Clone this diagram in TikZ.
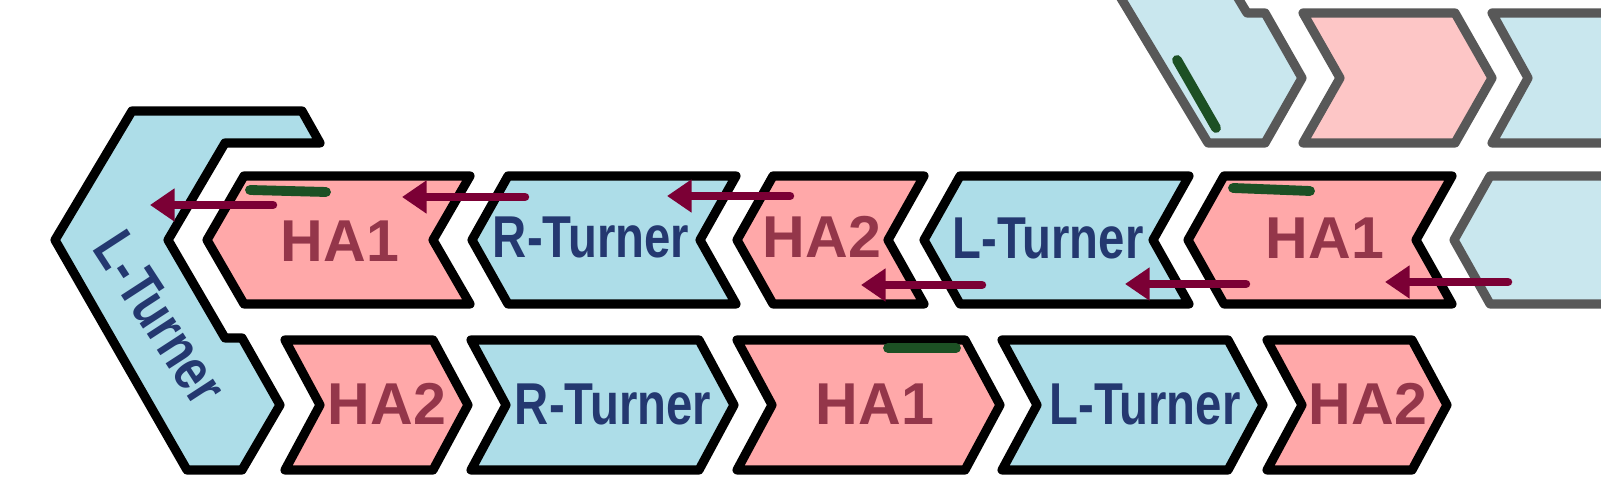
\documentclass[tikz,border=0pt]{standalone}
\usepackage{fontspec}
\setmainfont{Liberation Sans}
\newfontfamily\condsans{Liberation Sans}[FakeStretch=0.80]
\usetikzlibrary{arrows.meta}
\definecolor{hapink}{RGB}{255,168,169}
\definecolor{turnblue}{RGB}{173,221,232}
\definecolor{fadepink}{RGB}{253,198,198}
\definecolor{fadeblue}{RGB}{201,231,238}
\definecolor{fadegray}{RGB}{88,88,88}
\definecolor{hatext}{RGB}{148,54,74}
\definecolor{turntext}{RGB}{36,56,112}
\definecolor{arrowred}{RGB}{123,0,53}
\definecolor{bargreen}{RGB}{28,80,36}

\begin{document}
\begin{tikzpicture}[
  x=0.01cm, y=-0.01cm,
  habox/.style={fill=hapink, draw=black, line width=2.6pt, line join=round},
  turnbox/.style={fill=turnblue, draw=black, line width=2.6pt, line join=round},
  hafade/.style={fill=fadepink, draw=fadegray, line width=2.6pt, line join=round},
  turnfade/.style={fill=fadeblue, draw=fadegray, line width=2.6pt, line join=round},
  halabel/.style={inner sep=0pt, text=hatext, font=\fontsize{16.8pt}{20pt}\selectfont\bfseries},
  turnlabel/.style={inner sep=0pt, text=turntext, font=\fontsize{16.8pt}{20pt}\selectfont\condsans\bfseries},
  arr/.style={-{Triangle[length=7pt, width=9pt]}, line width=2.4pt, line cap=round, color=arrowred},
  greenbar/.style={line width=2.8pt, line cap=round, color=bargreen}
]
  \useasboundingbox (0,0) rectangle (1601,480);
  \clip (0,0) rectangle (1601,480);

  % Faded row at the top
  \draw[turnfade] (1098,-40) -- (1208,143) -- (1265,143) -- (1302,78) -- (1265,13)
    -- (1247,13) -- (1215,-40) -- cycle;
  \draw[hafade] (1303,13) -- (1455,13) -- (1492,78) -- (1455,143) -- (1303,143) -- (1340,78) -- cycle;
  \draw[turnfade] (1492,13) -- (1650,13) -- (1650,143) -- (1492,143) -- (1528,78) -- cycle;
  \draw[greenbar] (1177,60) -- (1216,128);

  % Big L-Turner on the left
  \draw[turnbox] (132,111) -- (302,111) -- (320,143) -- (225,143) -- (168,240) -- (225,338)
    -- (242,338) -- (280,405) -- (242,470) -- (187,470) -- (55,240) -- cycle;

  % Middle row, pointing left
  \draw[habox]   (244,176) -- (470,176) -- (433,240) -- (470,304) -- (244,304) -- (207,240) -- cycle;
  \draw[turnbox] (508,176) -- (736,176) -- (700,240) -- (736,304) -- (508,304) -- (472,240) -- cycle;
  \draw[habox]   (773,176) -- (924,176) -- (888,240) -- (924,304) -- (773,304) -- (737,240) -- cycle;
  \draw[turnbox] (960,176) -- (1189,176) -- (1153,240) -- (1189,304) -- (960,304) -- (924,240) -- cycle;
  \draw[habox]   (1224,176) -- (1452,176) -- (1416,240) -- (1452,304) -- (1224,304) -- (1188,240) -- cycle;
  \draw[turnfade] (1490,176) -- (1650,176) -- (1650,304) -- (1490,304) -- (1454,240) -- cycle;

  % Bottom row, pointing right
  \draw[habox]   (285,340) -- (433,340) -- (468,405) -- (433,470) -- (285,470) -- (320,405) -- cycle;
  \draw[turnbox] (471,340) -- (699,340) -- (734,405) -- (699,470) -- (471,470) -- (506,405) -- cycle;
  \draw[habox]   (737,340) -- (965,340) -- (1000,405) -- (965,470) -- (737,470) -- (772,405) -- cycle;
  \draw[turnbox] (1002,340) -- (1228,340) -- (1263,405) -- (1228,470) -- (1002,470) -- (1037,405) -- cycle;
  \draw[habox]   (1267,340) -- (1412,340) -- (1447,405) -- (1412,470) -- (1267,470) -- (1302,405) -- cycle;

  % Labels
  \node[turnlabel, rotate=-57] (ltbig) at (160,318) {L-Turner};
  \node[halabel]   (ha1a) at (340,241) {HA1};
  \node[turnlabel] (rta)  at (591,237) {R-Turner};
  \node[halabel]   (ha2a) at (822,237) {HA2};
  \node[turnlabel] (lta)  at (1048,238) {L-Turner};
  \node[halabel]   (ha1b) at (1325,238) {HA1};
  \node[halabel]   (ha2b) at (387,404) {HA2};
  \node[turnlabel] (rtb)  at (613,404) {R-Turner};
  \node[halabel]   (ha1c) at (875,404) {HA1};
  \node[turnlabel] (ltb)  at (1145,404) {L-Turner};
  \node[halabel]   (ha2c) at (1368,404) {HA2};

  % Green marks
  \draw[greenbar] (250,190) -- (326,192);
  \draw[greenbar] (1233,188) -- (1310,191);
  \draw[greenbar] (888,348) -- (956,348);

  % Arrow ends
  \coordinate (s1) at (273,205);  \coordinate (e1) at (150,205);
  \coordinate (s2) at (525,197);  \coordinate (e2) at (402,197);
  \coordinate (s3) at (790,196);  \coordinate (e3) at (667,196);
  \coordinate (s4) at (982,285);  \coordinate (e4) at (861,285);
  \coordinate (s5) at (1246,284); \coordinate (e5) at (1125,284);
  \coordinate (s6) at (1508,282); \coordinate (e6) at (1385,282);

  % Arrows
  \foreach \i in {1,...,6}
    \draw[arr] (s\i) -- (e\i);
\end{tikzpicture}
\end{document}
